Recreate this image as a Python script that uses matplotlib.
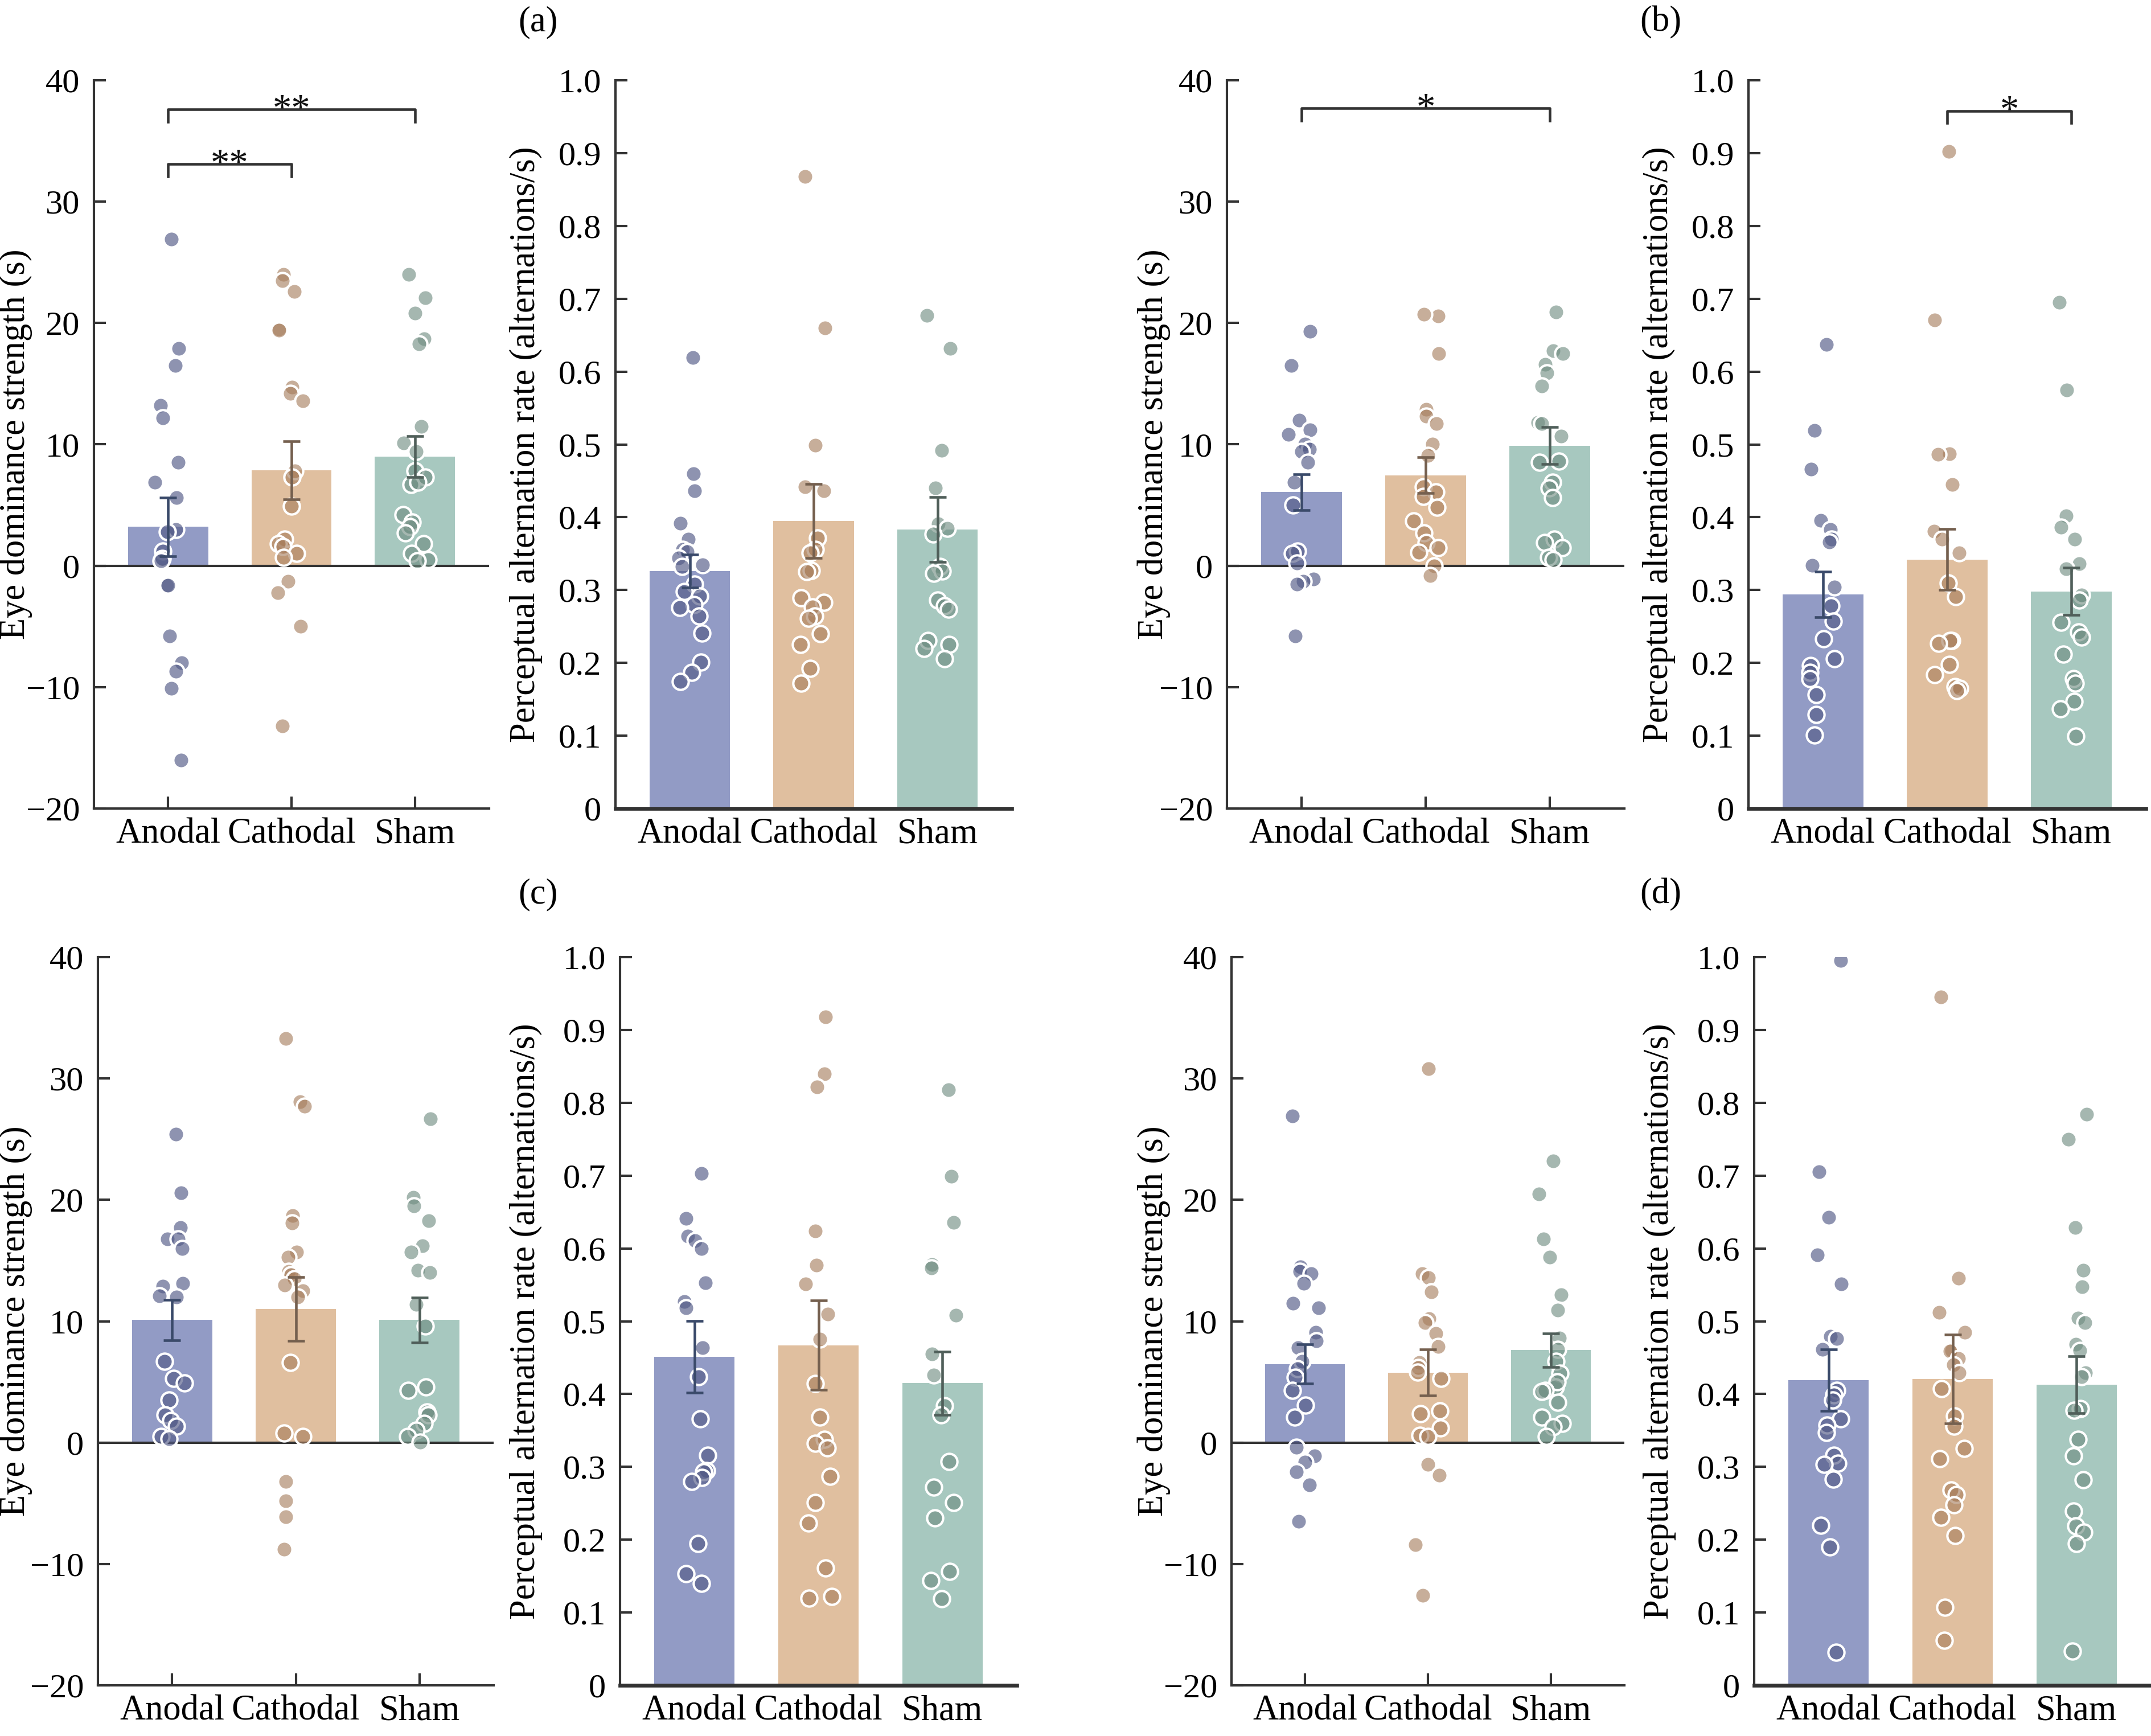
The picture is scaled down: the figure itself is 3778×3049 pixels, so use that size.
import numpy as np
import matplotlib
matplotlib.use('Agg')
import matplotlib.pyplot as plt

plt.rcParams['font.family'] = ['Liberation Serif', 'DejaVu Serif']

# ---------------- data ----------------
groups = ['Anodal', 'Cathodal', 'Sham']

# (a) eye dominance strength (s)
a_dom_mean = [3.2, 7.85, 9.0]
a_dom_sem = [2.4, 2.4, 1.7]
a_dom_anodal = [26.9, 17.9, 16.5, 13.2, 12.2, 8.5, 6.9, 5.6, 3.0, 2.8, 1.2, 0.6, 0.4,
                -1.6, -1.6, -5.8, -8.0, -8.7, -10.1, -16.0]
a_dom_cathodal = [24.0, 23.5, 22.6, 19.5, 19.4, 14.7, 14.2, 13.6, 7.8, 7.3, 4.9, 2.2, 1.8,
                  1.6, 1.0, 0.7, -1.3, -2.2, -5.0, -13.2]
a_dom_sham = [24.0, 22.1, 20.8, 18.7, 18.3, 11.5, 10.1, 9.4, 7.8, 7.3, 6.7, 6.9, 4.2, 3.6,
              3.2, 2.7, 1.8, 1.0, 0.5, 0.4]
# (a) perceptual alternation rate
a_rate_mean = [0.326, 0.395, 0.383]
a_rate_sem = [0.0225, 0.051, 0.0445]
a_rate_anodal = [0.619, 0.460, 0.436, 0.392, 0.370, 0.356, 0.353, 0.344, 0.335, 0.332,
                 0.308, 0.298, 0.292, 0.280, 0.276, 0.264, 0.241, 0.201, 0.187, 0.174]
a_rate_cathodal = [0.868, 0.660, 0.499, 0.442, 0.436, 0.371, 0.356, 0.351, 0.327, 0.325,
                   0.289, 0.283, 0.277, 0.264, 0.261, 0.240, 0.225, 0.192, 0.172]
a_rate_sham = [0.677, 0.632, 0.492, 0.440, 0.391, 0.385, 0.377, 0.332, 0.326, 0.323,
               0.286, 0.278, 0.274, 0.231, 0.225, 0.220, 0.206]

# (b)
b_dom_mean = [6.06, 7.45, 9.89]
b_dom_sem = [1.5, 1.48, 1.52]
b_dom_anodal = [19.3, 16.5, 12.0, 11.2, 10.8, 10.0, 9.6, 9.4, 8.5, 6.9, 5.0, 1.2, 1.0, 0.2,
                -1.1, -1.3, -1.5, -5.8]
b_dom_cathodal = [20.6, 20.7, 17.5, 12.9, 12.3, 11.7, 10.0, 9.1, 6.5, 6.1, 5.7, 4.8, 3.7,
                  2.7, 1.9, 1.5, 1.1, 0.0, -0.8]
b_dom_sham = [20.9, 17.7, 17.5, 16.6, 15.9, 14.8, 11.8, 11.7, 10.7, 8.6, 8.5, 6.9, 6.4,
              5.6, 2.2, 1.9, 1.5, 0.7, 0.5]
b_rate_mean = [0.294, 0.342, 0.298]
b_rate_sem = [0.0315, 0.042, 0.0325]
b_rate_anodal = [0.637, 0.519, 0.466, 0.396, 0.383, 0.370, 0.366, 0.334, 0.304, 0.278,
                 0.257, 0.233, 0.206, 0.196, 0.187, 0.178, 0.156, 0.129, 0.101]
b_rate_cathodal = [0.902, 0.671, 0.487, 0.486, 0.445, 0.381, 0.370, 0.351, 0.310, 0.291,
                   0.231, 0.231, 0.227, 0.198, 0.184, 0.167, 0.165, 0.162]
b_rate_sham = [0.695, 0.575, 0.402, 0.386, 0.370, 0.336, 0.329, 0.293, 0.286, 0.256,
               0.242, 0.235, 0.212, 0.178, 0.172, 0.147, 0.137, 0.099]

# (c)
c_dom_mean = [10.1, 11.0, 10.1]
c_dom_sem = [1.65, 2.64, 1.86]
c_dom_anodal = [25.4, 20.6, 17.7, 16.8, 16.8, 16.0, 13.1, 12.9, 12.1, 12.0, 6.7, 5.3, 4.9,
                3.5, 2.3, 1.8, 1.35, 0.5, 0.3]
c_dom_cathodal = [33.3, 28.1, 27.7, 18.7, 18.1, 15.7, 15.3, 14.1, 13.8, 13.5, 13.0, 12.5,
                  12.0, 6.6, 0.8, 0.5, -3.2, -4.8, -6.1, -8.8]
c_dom_sham = [26.7, 20.2, 19.5, 18.3, 16.2, 15.7, 14.2, 14.0, 11.4, 9.6, 4.3, 4.6, 2.5,
              2.3, 1.6, 1.0, 0.5, 0.05]
c_rate_mean = [0.451, 0.467, 0.415]
c_rate_sem = [0.0495, 0.0615, 0.0435]
c_rate_anodal = [0.703, 0.641, 0.617, 0.611, 0.600, 0.553, 0.527, 0.518, 0.464, 0.424,
                 0.366, 0.316, 0.295, 0.293, 0.285, 0.280, 0.195, 0.153, 0.140]
c_rate_cathodal = [0.918, 0.840, 0.822, 0.624, 0.577, 0.551, 0.510, 0.475, 0.414, 0.368,
                   0.338, 0.332, 0.326, 0.287, 0.251, 0.223, 0.161, 0.122, 0.120]
c_rate_sham = [0.818, 0.699, 0.636, 0.578, 0.573, 0.508, 0.455, 0.426, 0.384, 0.371,
               0.307, 0.272, 0.251, 0.230, 0.156, 0.144, 0.119]

# (d)
d_dom_mean = [6.48, 5.76, 7.61]
d_dom_sem = [1.6, 1.9, 1.4]
d_dom_anodal = [26.9, 14.5, 14.1, 13.9, 13.1, 11.5, 11.1, 9.1, 8.4, 7.8, 6.7, 6.1, 5.4,
                4.3, 3.1, 2.1, -0.4, -1.1, -1.6, -2.4, -3.5, -6.5]
d_dom_cathodal = [30.8, 13.9, 13.6, 12.4, 10.2, 9.9, 9.0, 7.9, 6.6, 6.2, 5.8, 5.3, 2.6,
                  2.4, 1.2, 0.6, 0.5, -1.8, -2.7, -8.4, -12.6]
d_dom_sham = [23.2, 20.5, 16.8, 15.3, 12.2, 10.9, 8.6, 7.7, 6.7, 5.7, 4.6, 5.0, 4.3, 4.2,
              3.3, 2.1, 1.6, 1.3, 0.5]
d_rate_mean = [0.419, 0.421, 0.413]
d_rate_sem = [0.042, 0.061, 0.039]
d_rate_anodal = [0.995, 0.705, 0.643, 0.591, 0.551, 0.479, 0.476, 0.461, 0.405, 0.399,
                 0.392, 0.366, 0.357, 0.347, 0.316, 0.305, 0.303, 0.283, 0.220, 0.190, 0.045]
d_rate_cathodal = [0.945, 0.559, 0.512, 0.485, 0.460, 0.459, 0.449, 0.440, 0.429, 0.407,
                   0.370, 0.356, 0.325, 0.311, 0.268, 0.262, 0.248, 0.231, 0.206, 0.107, 0.062]
d_rate_sham = [0.784, 0.750, 0.629, 0.570, 0.547, 0.504, 0.498, 0.468, 0.460, 0.429,
               0.424, 0.380, 0.378, 0.338, 0.315, 0.282, 0.239, 0.219, 0.210, 0.195, 0.047]

dom_ticks = [-20, -10, 0, 10, 20, 30, 40]
dom_ticklabels = ['\u221220', '\u221210', '0', '10', '20', '30', '40']
rate_ticks = [0, 0.1, 0.2, 0.3, 0.4, 0.5, 0.6, 0.7, 0.8, 0.9, 1.0]
rate_ticklabels = ['0', '0.1', '0.2', '0.3', '0.4', '0.5', '0.6', '0.7', '0.8', '0.9', '1.0']

# significance: (panel key, group i, group j, y level, label)
sig_brackets = [
    ('a_dom', 0, 2, 37.6, '**'),
    ('a_dom', 0, 1, 33.1, '**'),
    ('b_dom', 0, 2, 37.7, '*'),
    ('b_rate', 1, 2, 0.958, '*'),
]
panel_letters = ['(a)', '(b)', '(c)', '(d)']

# ---------------- style ----------------
bar_colors = ['#929BC5', '#E0BF9F', '#A7C8BF']
dot_colors = [(0.33, 0.36, 0.53, 0.66), (0.65, 0.49, 0.36, 0.62), (0.43, 0.55, 0.50, 0.62)]
err_colors = ['#3A4A6A', '#75604F', '#505F5A']
spine_color = '#333333'

W, H = 3778, 3049
fig = plt.figure(figsize=(W / 300, H / 300), dpi=300)

rows = {0: (141, 1420), 1: (1681, 2960)}
# key: (row, left px, right px, label right-edge px)
layout = {
    'a_dom': (0, 165, 859, 57),
    'a_rate': (0, 1081, 1777, 953),
    'b_dom': (0, 2155, 2853, 2056),
    'b_rate': (0, 3071, 3769, 2943),
    'c_dom': (1, 172, 867, 57),
    'c_rate': (1, 1089, 1786, 953),
    'd_dom': (1, 2163, 2853, 2056),
    'd_rate': (1, 3081, 3778, 2944),
}

panels = {
    'a_dom': (a_dom_mean, a_dom_sem, [a_dom_anodal, a_dom_cathodal, a_dom_sham]),
    'a_rate': (a_rate_mean, a_rate_sem, [a_rate_anodal, a_rate_cathodal, a_rate_sham]),
    'b_dom': (b_dom_mean, b_dom_sem, [b_dom_anodal, b_dom_cathodal, b_dom_sham]),
    'b_rate': (b_rate_mean, b_rate_sem, [b_rate_anodal, b_rate_cathodal, b_rate_sham]),
    'c_dom': (c_dom_mean, c_dom_sem, [c_dom_anodal, c_dom_cathodal, c_dom_sham]),
    'c_rate': (c_rate_mean, c_rate_sem, [c_rate_anodal, c_rate_cathodal, c_rate_sham]),
    'd_dom': (d_dom_mean, d_dom_sem, [d_dom_anodal, d_dom_cathodal, d_dom_sham]),
    'd_rate': (d_rate_mean, d_rate_sem, [d_rate_anodal, d_rate_cathodal, d_rate_sham]),
}

rng = np.random.default_rng(7)
axes = {}
for key, (mean, sem, pts) in panels.items():
    row, lpx, rpx, labpx = layout[key]
    top, bot = rows[row]
    ax = fig.add_axes([lpx / W, 1 - bot / H, (rpx - lpx) / W, (bot - top) / H])
    axes[key] = ax
    is_dom = key.endswith('dom')
    x = np.arange(len(groups))
    ax.bar(x, mean, width=0.65, color=bar_colors, zorder=1, linewidth=0)
    for i, vals in enumerate(pts):
        jit = rng.uniform(-0.11, 0.11, len(vals))
        ax.scatter(x[i] + jit, vals, s=46, facecolors=[dot_colors[i]],
                   edgecolors='white', linewidths=1.0, zorder=3)
    for i in range(len(groups)):
        ax.errorbar(x[i], mean[i], yerr=sem[i], fmt='none', ecolor=err_colors[i],
                    elinewidth=1.1, capsize=3.6, capthick=1.1, zorder=4)
    ax.set_xlim(-0.6, 2.6)
    for s in ['top', 'right']:
        ax.spines[s].set_visible(False)
    for s in ['left', 'bottom']:
        ax.spines[s].set_color(spine_color)
        ax.spines[s].set_linewidth(1.0)
    ax.set_xticks(x)
    ax.set_xticklabels(groups, fontsize=15)
    if is_dom:
        ax.set_ylim(-20, 40)
        ax.set_yticks(dom_ticks)
        ax.set_yticklabels(dom_ticklabels, fontsize=14.5)
        ax.axhline(0, color=spine_color, lw=1.0, zorder=2)
        ax.tick_params(axis='x', direction='in', length=5, width=1.0, color=spine_color, pad=4)
        ax.set_ylabel('Eye dominance strength (s)', fontsize=15)
    else:
        ax.set_ylim(0, 1.0)
        ax.set_yticks(rate_ticks)
        ax.set_yticklabels(rate_ticklabels, fontsize=14.5)
        ax.spines['bottom'].set_linewidth(1.6)
        ax.tick_params(axis='x', length=0, pad=4)
        ax.set_ylabel('Perceptual alternation rate (alternations/s)', fontsize=15)
    ax.tick_params(axis='y', direction='in', length=5, width=1.0, color=spine_color, pad=6)
    ax.yaxis.set_label_coords((labpx - lpx) / (rpx - lpx), 0.5)
    ax.set_facecolor('none')

for key, i, j, y, lab in sig_brackets:
    ax = axes[key]
    lo, hi = ax.get_ylim()
    tip = (hi - lo) * 0.017
    ax.plot([i, i, j, j], [y - tip, y, y, y - tip], color=spine_color, lw=1.1,
            clip_on=False, zorder=5)
    ax.annotate(lab, xy=((i + j) / 2, y), xytext=(0, -4.5), textcoords='offset points',
                ha='center', va='baseline', fontsize=16, color='#111111')

letter_pos = [(910, 10), (2880, 10), (910, 1542), (2880, 1542)]
for lab, (px, py) in zip(panel_letters, letter_pos):
    fig.text(px / W, 1 - py / H, lab, ha='left', va='top', fontsize=15)

fig.savefig('out.png', dpi=300)
